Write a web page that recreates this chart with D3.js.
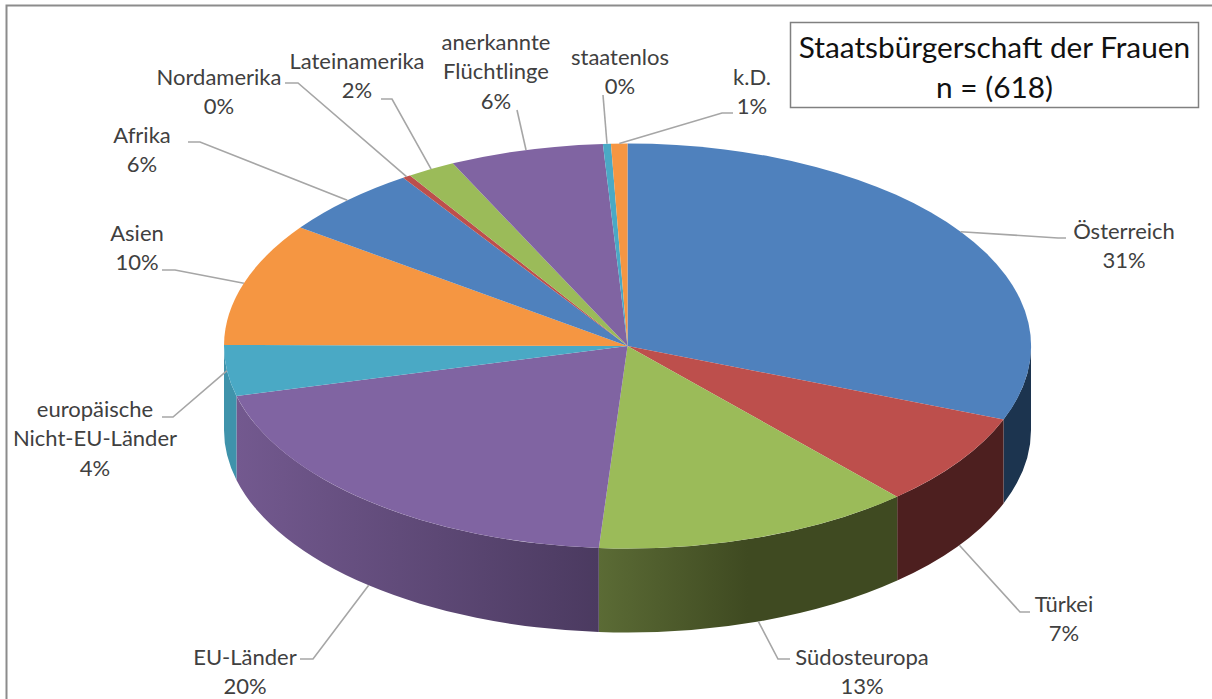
<!DOCTYPE html>
<html>
<head>
<meta charset="utf-8">
<script src="https://cdn.jsdelivr.net/npm/d3@7"></script>
<style>
  body { margin: 0; background: #fff; }
  text { font-family: Lato, sans-serif; }
</style>
</head>
<body>
<div id="chart"></div>
<script>
const categories = ["Österreich", "Türkei", "Südosteuropa", "EU-Länder", "europäische Nicht-EU-Länder",
  "Asien", "Afrika", "Nordamerika", "Lateinamerika", "anerkannte Flüchtlinge", "staatenlos", "k.D."];
// counts, they add up to n = 618
const counts = [191, 46, 79, 123, 25, 61, 35, 2, 12, 38, 2, 4];
const titleLines = ["Staatsbürgerschaft der Frauen", "n = (618)"];

const topColors = ["#4f81bd", "#bd4f4c", "#9bbb59", "#8064a2", "#4aa9c5", "#f59642",
  "#4f81bd", "#bd4f4c", "#9bbb59", "#8064a2", "#4aa9c5", "#f59642"];
// side wall shades, left to right
const sideColors = {
  "Österreich": ["#1c344f", "#1c344f"],
  "Türkei": ["#4d1f1f", "#4d1f1f"],
  "Südosteuropa": ["#5b6b35", "#3f4a21", "#3f4a21"],
  "EU-Länder": ["#73598f", "#4b3a60"],
  "europäische Nicht-EU-Länder": ["#3f93ab", "#3f93ab"]
};

// label layout: line breaks, x centre, first baseline, leader elbow and end
const labelLayout = {
  "Österreich": {lines: ["Österreich"], x: 1124, y: 239, elbow: [1058, 238], end: [1066, 238]},
  "Türkei": {lines: ["Türkei"], x: 1064, y: 612, elbow: [1020, 612], end: [1030, 612]},
  "Südosteuropa": {lines: ["Südosteuropa"], x: 862, y: 665, elbow: [778, 659], end: [790, 659]},
  "EU-Länder": {lines: ["EU-Länder"], x: 245, y: 665, elbow: [313, 659], end: [300, 659]},
  "europäische Nicht-EU-Länder": {lines: ["europäische", "Nicht-EU-Länder"], x: 95, y: 417, elbow: [173, 417], end: [162, 417]},
  "Asien": {lines: ["Asien"], x: 137, y: 241, elbow: [175, 270], end: [162, 270]},
  "Afrika": {lines: ["Afrika"], x: 142, y: 143, elbow: [200, 142], end: [188, 142]},
  "Nordamerika": {lines: ["Nordamerika"], x: 219, y: 85, elbow: [298, 83], end: [285, 83]},
  "Lateinamerika": {lines: ["Lateinamerika"], x: 357, y: 69, elbow: [392, 99], end: [381, 99]},
  "anerkannte Flüchtlinge": {lines: ["anerkannte", "Flüchtlinge"], x: 496, y: 50, elbow: [517, 110], end: [517, 110]},
  "staatenlos": {lines: ["staatenlos"], x: 620, y: 65, elbow: [603, 95], end: [603, 95]},
  "k.D.": {lines: ["k.D."], x: 752, y: 85, elbow: [722, 113], end: [733, 113]}
};

const width = 1212, height = 699;
const cx = 627.5, cy = 346, rx = 403.5, ry = 202.5, depth = 84;
const lineHeight = 29.3;

const svg = d3.select("#chart").append("svg")
  .attr("width", width)
  .attr("height", height);

// outer chart frame, only top and left are in the picture
svg.append("path")
  .attr("d", "M6.5," + height + "V5.5H" + width)
  .attr("fill", "none")
  .attr("stroke", "#8c8c8c")
  .attr("stroke-width", 2);

const pie = d3.pie().sort(null).value((d, i) => counts[i]);
const slices = pie(categories);
const total = d3.sum(counts);
const pct = d3.format(".0%");

function ex(a) { return cx + rx * Math.sin(a); }
function ey(a) { return cy - ry * Math.cos(a); }

// side walls, only the front half of the ellipse (pi/2 to 3pi/2) can be seen
const defs = svg.append("defs");
const walls = slices
  .map(d => ({d: d, a0: Math.max(d.startAngle, Math.PI / 2), a1: Math.min(d.endAngle, Math.PI * 1.5)}))
  .filter(w => w.a1 > w.a0 && sideColors[w.d.data]);

walls.forEach((w, i) => {
  const x0 = Math.min(ex(w.a0), ex(w.a1)), x1 = Math.max(ex(w.a0), ex(w.a1));
  const stops = sideColors[w.d.data];
  const grad = defs.append("linearGradient")
    .attr("id", "side" + i)
    .attr("gradientUnits", "userSpaceOnUse")
    .attr("x1", x0).attr("x2", x1).attr("y1", 0).attr("y2", 0);
  stops.forEach((c, j) => {
    grad.append("stop")
      .attr("offset", j / (stops.length - 1))
      .attr("stop-color", c);
  });
});

svg.append("g").selectAll("path")
  .data(walls)
  .enter().append("path")
  .attr("fill", (w, i) => "url(#side" + i + ")")
  .attr("d", w => {
    return "M" + ex(w.a0) + "," + ey(w.a0)
      + "A" + rx + "," + ry + " 0 0 1 " + ex(w.a1) + "," + ey(w.a1)
      + "V" + (ey(w.a1) + depth)
      + "A" + rx + "," + ry + " 0 0 0 " + ex(w.a0) + "," + (ey(w.a0) + depth)
      + "Z";
  });

// top face: unit arcs squashed to the ellipse
const arc = d3.arc().innerRadius(0).outerRadius(1);
svg.append("g")
  .attr("transform", "translate(" + cx + "," + cy + ") scale(" + rx + "," + ry + ")")
  .selectAll("path")
  .data(slices)
  .enter().append("path")
  .attr("fill", (d, i) => topColors[i])
  .attr("d", arc);

// leader lines start at the middle of each slice's rim
function leaderPoints(d) {
  const a = (d.startAngle + d.endAngle) / 2;
  const front = Math.cos(a) < 0 && Math.abs(Math.sin(a)) < 0.9;
  const start = [ex(a), ey(a) + (front ? depth : 0)];
  const l = labelLayout[d.data];
  return [start, l.elbow, l.end];
}

svg.append("g").selectAll("path")
  .data(slices)
  .enter().append("path")
  .attr("fill", "none")
  .attr("stroke", "#a6a6a6")
  .attr("stroke-width", 1.6)
  .attr("d", d => d3.line()(leaderPoints(d)));

// labels
const labels = svg.append("g").selectAll("text")
  .data(slices)
  .enter().append("text")
  .attr("text-anchor", "middle")
  .attr("font-size", 22)
  .attr("fill", "#404040")
  .attr("y", d => labelLayout[d.data].y);

labels.each(function(d) {
  const l = labelLayout[d.data];
  const el = d3.select(this);
  l.lines.concat(pct(d.value / total)).forEach((t, i) => {
    el.append("tspan")
      .attr("x", l.x)
      .attr("dy", i ? lineHeight : 0)
      .text(t);
  });
});

// title box
svg.append("rect")
  .attr("x", 790.5).attr("y", 22.5)
  .attr("width", 408).attr("height", 85)
  .attr("fill", "#fff")
  .attr("stroke", "#808080")
  .attr("stroke-width", 1.5);

svg.append("g").selectAll("text")
  .data(titleLines)
  .enter().append("text")
  .attr("x", 994.5)
  .attr("y", (d, i) => 58 + i * 40)
  .attr("text-anchor", "middle")
  .attr("font-size", 29.8)
  .attr("fill", "#111")
  .text(d => d);
</script>
</body>
</html>
